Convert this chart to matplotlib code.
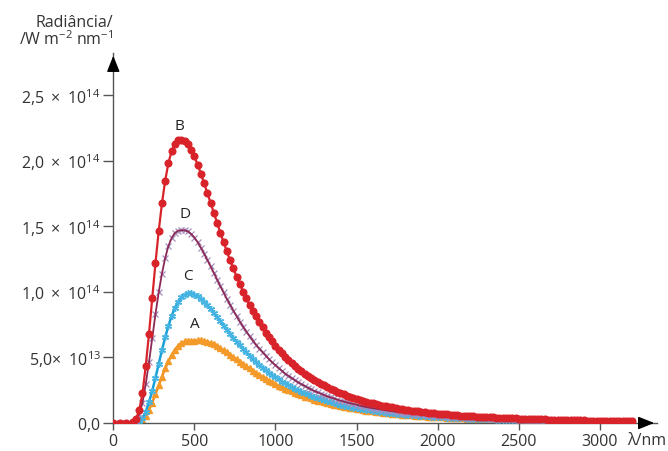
import matplotlib
matplotlib.use("Agg")
import matplotlib.pyplot as plt

plt.rcParams['font.family'] = ['Open Sans', 'DejaVu Sans']
plt.rcParams['mathtext.fontset'] = 'dejavusans'

# wavelength grid (nm) shared by the four curves
wavelength = [0, 40, 80] + list(range(120, 3201, 20))

# spectral radiance, in units of 1e12 W m-2 nm-1
rad_B = [0, 0, 0,
         0.6, 3.1, 9.8, 22.7, 43.5, 68, 95, 122, 146.5, 167.5,
         185, 198.5, 207.5, 213, 215.8, 216, 215.1, 212.5, 208.6, 203.4,
         197.1, 190.3, 182.9, 175.4, 167.8, 160.1, 152.5, 145.2, 137.8, 131,
         124.1, 117.9, 111.7, 106, 100.3, 95.1, 90.1, 85.5, 81.3, 77.1,
         72.9, 68.9, 65.7, 62.4, 59.1, 55.8, 53.2, 50.7, 48.2, 45.6,
         43.5, 41.5, 39.5, 37.5, 35.7,
         34.3, 33.0, 31.5, 30.1, 28.8, 27.5, 26.3, 25.1, 23.9, 22.8,
         21.8, 20.9, 20.0, 19.2, 18.4, 17.6, 16.9, 16.3, 15.6, 15.0,
         14.4, 13.8, 13.3, 12.8, 12.3, 11.9, 11.4, 11.0, 10.6, 10.2,
         9.8, 9.5, 9.1, 8.8, 8.5, 8.3, 8.0, 7.7, 7.4, 7.2,
         6.9, 6.7, 6.5, 6.3, 6.1, 5.9, 5.7, 5.5, 5.35, 5.2,
         5.05, 4.9, 4.75, 4.6, 4.45, 4.3, 4.2, 4.1, 4.0, 3.9,
         3.8, 3.7, 3.6, 3.5, 3.4, 3.3, 3.2, 3.1, 3.0, 2.9,
         2.8, 2.75, 2.7, 2.6, 2.55, 2.5, 2.4, 2.35, 2.3, 2.2,
         2.15, 2.1, 2.05, 2.0, 1.95, 1.9, 1.85, 1.8, 1.78, 1.75,
         1.7, 1.65, 1.62, 1.6, 1.55, 1.5, 1.48, 1.45, 1.42, 1.4]

rad_D = [0, 0, 0,
         0.4, 2.1, 6.7, 15.4, 29.6, 46.3, 64.7, 83, 99.7, 114,
         125.9, 135.1, 141.2, 145, 146.8, 147, 147, 146.2, 144.2, 141.5,
         137.9, 133.8, 129.3, 124.4, 119.5, 114.5, 109.4, 104.4, 99.6, 94.7,
         90.2, 85.7, 81.5, 77.4, 73.5, 69.8, 66.2, 62.9, 59.6, 56.8,
         54.1, 51.4, 48.6, 46.2, 44.0, 41.9, 39.7, 37.6, 36.0, 34.3,
         32.6, 30.9, 29.6, 28.3, 26.9,
         25.6, 24.4, 23.4, 22.4, 21.3, 20.3, 19.5, 18.7, 17.9, 17.1,
         16.4, 15.7, 15.1, 14.5, 13.9, 13.3, 12.7, 12.2, 11.7, 11.3,
         10.9, 10.5, 10.1, 9.7, 9.3, 9.0, 8.6, 8.3, 8.0, 7.7,
         7.45, 7.2, 6.95, 6.7, 6.5, 6.3, 6.05, 5.8, 5.65, 5.5,
         5.3, 5.1, 4.95, 4.8, 4.65, 4.5, 4.35, 4.2, 4.05, 3.9,
         3.8, 3.7, 3.6, 3.5, 3.4, 3.3, 3.2, 3.1, 3.05, 3.0,
         2.9, 2.8, 2.7, 2.6, 2.55, 2.5, 2.42, 2.35, 2.28, 2.2,
         2.15, 2.1, 2.05, 2.0, 1.95, 1.9, 1.85, 1.8, 1.75, 1.7,
         1.65, 1.6, 1.58, 1.55, 1.52, 1.5, 1.45, 1.4, 1.35, 1.3,
         1.28, 1.27, 1.23, 1.2, 1.17, 1.15, 1.12, 1.1, 1.07, 1.05]

rad_C = [0, 0, 0,
         0, 0.3, 1.4, 3.8, 8.4, 15.8, 24.5, 34.5, 45.2, 55.6,
         65.4, 74.2, 81.7, 87.9, 92.6, 95.8, 97.8, 98.9, 98.9, 98.0,
         96.6, 94.7, 92.3, 89.7, 86.8, 83.7, 80.6, 77.5, 74.3, 71.1,
         68.0, 65.0, 62.0, 59.2, 56.4, 53.8, 51.3, 48.8, 46.5, 44.3,
         42.2, 40.1, 38.4, 36.7, 34.9, 33.2, 31.6, 30.2, 28.8, 27.5,
         26.1, 24.9, 23.9, 22.8, 21.8,
         20.7, 19.7, 18.8, 18.0, 17.2, 16.5, 15.8, 15.1, 14.5, 13.9,
         13.3, 12.8, 12.3, 11.8, 11.3, 10.9, 10.5, 10.1, 9.7, 9.3,
         8.9, 8.6, 8.3, 8.0, 7.7, 7.4, 7.15, 6.9, 6.65, 6.4,
         6.2, 6.0, 5.75, 5.5, 5.35, 5.2, 5.0, 4.8, 4.65, 4.5,
         4.4, 4.3, 4.15, 4.0, 3.85, 3.7, 3.6, 3.5, 3.4, 3.3,
         3.2, 3.1, 3.0, 2.9, 2.82, 2.75, 2.68, 2.6, 2.52, 2.45,
         2.38, 2.3, 2.25, 2.2, 2.15, 2.1, 2.02, 1.95, 1.9, 1.85,
         1.8, 1.75, 1.72, 1.7, 1.65, 1.6, 1.55, 1.5, 1.45, 1.4,
         1.38, 1.37, 1.33, 1.3, 1.27, 1.23, 1.2, 1.17, 1.15, 1.12,
         1.09, 1.06, 1.04, 1.02, 1.0, 0.97, 0.95, 0.93, 0.9, 0.88]

rad_A = [0, 0, 0,
         0, 0.2, 0.9, 2.4, 5.3, 10.0, 15.6, 21.9, 28.7, 35.4,
         41.6, 47.2, 52.0, 55.9, 58.9, 60.9, 62.2, 62.8, 62.6, 62.9,
         63.0, 63.0, 62.7, 61.9, 61.0, 59.9, 58.6, 57.1, 55.5, 53.8,
         52.0, 50.3, 48.5, 46.7, 45.0, 43.2, 41.6, 39.9, 38.3, 36.7,
         35.2, 33.8, 32.3, 31.0, 29.7, 28.4, 27.3, 26.1, 25.1, 24.1,
         23.1, 22.1, 21.2, 20.2, 19.5,
         18.7, 17.9, 17.1, 16.4, 15.8, 15.2, 14.6, 14.0, 13.4, 12.9,
         12.4, 12.0, 11.5, 11.1, 10.7, 10.3, 9.9, 9.5, 9.15, 8.8,
         8.5, 8.2, 7.9, 7.6, 7.35, 7.1, 6.85, 6.6, 6.4, 6.2,
         6.0, 5.8, 5.6, 5.4, 5.2, 5.0, 4.85, 4.7, 4.55, 4.4,
         4.3, 4.2, 4.05, 3.9, 3.8, 3.7, 3.6, 3.5, 3.4, 3.3,
         3.2, 3.1, 3.0, 2.9, 2.8, 2.7, 2.65, 2.6, 2.52, 2.45,
         2.38, 2.3, 2.25, 2.2, 2.15, 2.1, 2.05, 2.0, 1.95, 1.9,
         1.85, 1.8, 1.75, 1.7, 1.65, 1.6, 1.55, 1.5, 1.47, 1.45,
         1.42, 1.4, 1.35, 1.3, 1.28, 1.26, 1.23, 1.2, 1.17, 1.15,
         1.12, 1.1, 1.07, 1.05, 1.02, 1.0, 0.97, 0.95, 0.92, 0.9]

y_ticks = [0, 50, 100, 150, 200, 250]
y_ticklabels = [r'$\mathregular{0{,}0}$',
                r'$\mathregular{5{,}0\!\times\;10^{13}}$',
                r'$\mathregular{1{,}0\;\times\;10^{14}}$',
                r'$\mathregular{1{,}5\;\times\;10^{14}}$',
                r'$\mathregular{2{,}0\;\times\;10^{14}}$',
                r'$\mathregular{2{,}5\;\times\;10^{14}}$']
x_ticks = [0, 500, 1000, 1500, 2000, 2500, 3000]

# curve letters and where they sit
curve_labels = ['B', 'D', 'C', 'A']
label_x = [405, 442, 462, 505]
label_y = [226, 159, 112, 75]

fig = plt.figure(figsize=(6.68, 4.51), dpi=100)
ax = fig.add_axes([0.1696, 0.0621, 0.8139, 0.8204])

ax.plot(wavelength, rad_A, color='#f0901e', lw=1.8, marker='^', ms=4.2,
        mfc='#f39a2a', mec='#f39a2a', zorder=2)
ax.plot(wavelength, rad_C, color='#19a0d8', lw=1.8, marker=(6, 2, 0), ms=5,
        mec='#45b4e2', mew=1.0, zorder=3)
# D: lilac crosses under a dark plum line
ax.plot(wavelength, rad_D, ls='none', marker='x', ms=4.6,
        mec='#a78ebf', mew=0.9, zorder=4)
ax.plot(wavelength, rad_D, color='#8a2a55', lw=1.3, zorder=4.5)
ax.plot(wavelength, rad_B, color='#d9232a', lw=1.6, marker='o', ms=4.8,
        mfc='#d9232a', mec='#d9232a', zorder=5)

for lab, lx, ly in zip(curve_labels, label_x, label_y):
    ax.text(lx, ly, lab, fontsize=11, color='#222222', ha='center', va='center')

ax.set_xlim(0, 3352)
ax.set_ylim(0, 282.3)
for side in ['top', 'right']:
    ax.spines[side].set_visible(False)
for side in ['left', 'bottom']:
    ax.spines[side].set_color('#555555')
    ax.spines[side].set_linewidth(1.0)

# arrow heads on the axes
arr = dict(arrowstyle='-|>,head_length=0.7,head_width=0.28', color='black', lw=1, mutation_scale=14)
ax.annotate('', xy=(1, 0), xytext=(0.97, 0), xycoords='axes fraction', arrowprops=arr, annotation_clip=False)
ax.annotate('', xy=(0, 1), xytext=(0, 0.95), xycoords='axes fraction', arrowprops=arr, annotation_clip=False)

ax.set_yticks(y_ticks)
ax.set_yticklabels(y_ticklabels)
ax.set_xticks(x_ticks)
ax.set_xticklabels([str(t) for t in x_ticks])
ax.tick_params(axis='y', direction='out', length=7, width=1, color='#555555', pad=2,
               labelsize=11.5, labelcolor='#333333')
ax.tick_params(axis='x', direction='out', length=5, width=1, color='#555555', pad=3,
               labelsize=11.5, labelcolor='#333333')

ax.text(3165, -14, 'λ/nm', fontsize=11.5, color='#333333', ha='left', va='center')

fig.text(0.169, 0.940, 'Radiância/', fontsize=11.5, color='#333333', ha='right', va='baseline')
fig.text(0.169, 0.900, r'/W m$\mathregular{^{-2}}$ nm$\mathregular{^{-1}}$', fontsize=11.5,
         color='#333333', ha='right', va='baseline')

fig.savefig('out.png', dpi=100)
